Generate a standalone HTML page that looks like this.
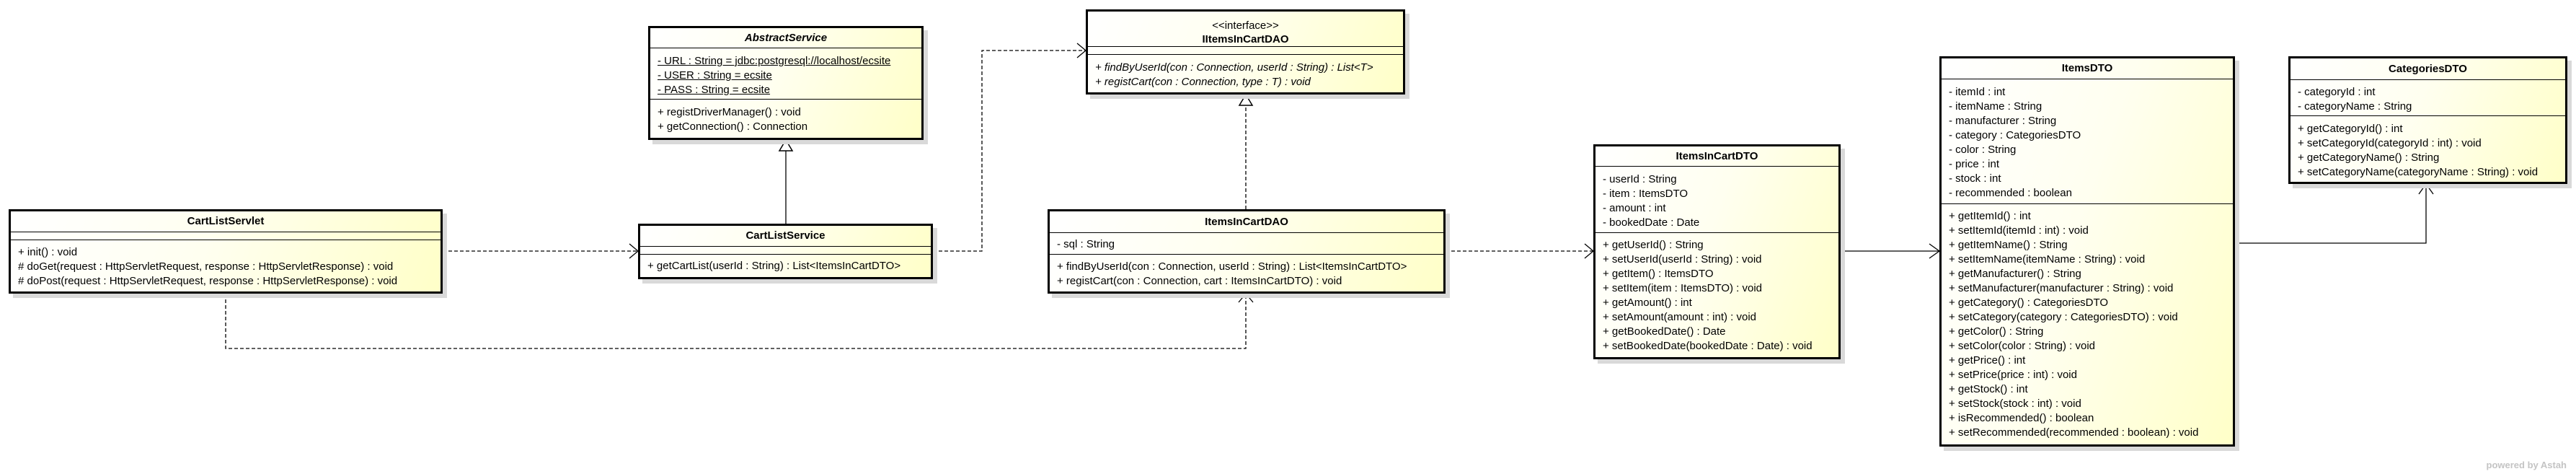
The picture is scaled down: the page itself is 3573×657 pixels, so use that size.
<!DOCTYPE html>
<html><head><meta charset="utf-8"><style>
html,body{margin:0;padding:0;background:#fff;}
body{width:3573px;height:657px;position:relative;overflow:hidden;font-family:"Liberation Sans",Arial,sans-serif;font-size:15px;color:#000;}
.box{position:absolute;box-sizing:border-box;border:3px solid #000;box-shadow:6px 6px 0 #d9d9d9;background:linear-gradient(110deg,#ffffff 0%,#fffff0 45%,#ffffc8 100%);display:flex;flex-direction:column;}
.sec{box-sizing:border-box;border-top:1.5px solid #000;padding-left:10px;white-space:nowrap;line-height:20px;}
.hd{box-sizing:border-box;text-align:center;font-weight:bold;white-space:nowrap;}
.u{text-decoration:underline;}
.i{font-style:italic;}
svg{position:absolute;left:0;top:0;}
</style></head><body>
<svg width="3573" height="657" viewBox="0 0 3573 657">
<g fill="none" stroke="#000" stroke-width="1.3">
<path d="M614 348 H885" stroke-dasharray="5,3"/>
<path d="M873 338 L885 348 L873 358"/>
<path d="M1294 348 H1362 V70 H1506" stroke-dasharray="5,3"/>
<path d="M1494 60 L1506 70 L1494 80"/>
<path d="M1090 310 V209"/>
<path d="M1728 290 V146" stroke-dasharray="5,3"/>
<path d="M313 407 V483 H1728 V407" stroke-dasharray="5,3"/>
<path d="M1718 419 L1728 407 L1738 419"/>
<path d="M2005 348 H2210" stroke-dasharray="5,3"/>
<path d="M2198 338 L2210 348 L2198 358"/>
<path d="M2553 348 H2690"/>
<path d="M2676 338 L2690 348 L2676 358"/>
<path d="M3100 337 H3365 V255"/>
<path d="M3355 269 L3365 255 L3375 269"/>
</g>
<g fill="#fff" stroke="#000" stroke-width="1.5">
<path d="M1090 194 L1099 209 L1081 209 Z"/>
<path d="M1728 131 L1737 146 L1719 146 Z"/>
</g>
<text x="3560" y="649" text-anchor="end" font-family="Liberation Sans, sans-serif" font-size="13" font-weight="bold" fill="#c4c4c4">powered by Astah</text>
</svg>

<div class="box" style="left:12px;top:290px;width:602px;height:117px;">
<div class="hd" style="height:28px;line-height:28px;">CartListServlet</div>
<div class="sec" style="height:11px;"></div>
<div class="sec" style="flex:1;padding-top:7px;">+ init() : void<br># doGet(request : HttpServletRequest, response : HttpServletResponse) : void<br># doPost(request : HttpServletRequest, response : HttpServletResponse) : void</div>
</div>

<div class="box" style="left:899px;top:36px;width:382px;height:158px;">
<div class="hd i" style="height:27px;line-height:27px;">AbstractService</div>
<div class="sec" style="height:71px;padding-top:8px;"><span class="u">- URL : String = jdbc:postgresql://localhost/ecsite</span><br><span class="u">- USER : String = ecsite</span><br><span class="u">- PASS : String = ecsite</span></div>
<div class="sec" style="flex:1;padding-top:8px;">+ registDriverManager() : void<br>+ getConnection() : Connection</div>
</div>

<div class="box" style="left:885px;top:310px;width:409px;height:77px;">
<div class="hd" style="height:28px;line-height:28px;">CartListService</div>
<div class="sec" style="height:11px;"></div>
<div class="sec" style="flex:1;padding-top:6px;">+ getCartList(userId : String) : List&lt;ItemsInCartDTO&gt;</div>
</div>

<div class="box" style="left:1506px;top:13px;width:443px;height:118px;">
<div class="hd" style="height:48px;padding-top:10px;line-height:19px;"><span style="font-weight:normal;">&lt;&lt;interface&gt;&gt;</span><br>IItemsInCartDAO</div>
<div class="sec" style="height:11px;"></div>
<div class="sec i" style="flex:1;padding-top:8px;">+ findByUserId(con : Connection, userId : String) : List&lt;T&gt;<br>+ registCart(con : Connection, type : T) : void</div>
</div>

<div class="box" style="left:1453px;top:290px;width:552px;height:117px;">
<div class="hd" style="height:29px;line-height:29px;">ItemsInCartDAO</div>
<div class="sec" style="height:30px;padding-top:6px;">- sql : String</div>
<div class="sec" style="flex:1;padding-top:7px;">+ findByUserId(con : Connection, userId : String) : List&lt;ItemsInCartDTO&gt;<br>+ registCart(con : Connection, cart : ItemsInCartDTO) : void</div>
</div>

<div class="box" style="left:2210px;top:200px;width:343px;height:298px;">
<div class="hd" style="height:27px;line-height:27px;">ItemsInCartDTO</div>
<div class="sec" style="height:92px;padding-top:8px;">- userId : String<br>- item : ItemsDTO<br>- amount : int<br>- bookedDate : Date</div>
<div class="sec" style="flex:1;padding-top:7px;">+ getUserId() : String<br>+ setUserId(userId : String) : void<br>+ getItem() : ItemsDTO<br>+ setItem(item : ItemsDTO) : void<br>+ getAmount() : int<br>+ setAmount(amount : int) : void<br>+ getBookedDate() : Date<br>+ setBookedDate(bookedDate : Date) : void</div>
</div>

<div class="box" style="left:2690px;top:78px;width:410px;height:541px;">
<div class="hd" style="height:28px;line-height:28px;">ItemsDTO</div>
<div class="sec" style="height:173px;padding-top:8px;">- itemId : int<br>- itemName : String<br>- manufacturer : String<br>- category : CategoriesDTO<br>- color : String<br>- price : int<br>- stock : int<br>- recommended : boolean</div>
<div class="sec" style="flex:1;padding-top:7px;">+ getItemId() : int<br>+ setItemId(itemId : int) : void<br>+ getItemName() : String<br>+ setItemName(itemName : String) : void<br>+ getManufacturer() : String<br>+ setManufacturer(manufacturer : String) : void<br>+ getCategory() : CategoriesDTO<br>+ setCategory(category : CategoriesDTO) : void<br>+ getColor() : String<br>+ setColor(color : String) : void<br>+ getPrice() : int<br>+ setPrice(price : int) : void<br>+ getStock() : int<br>+ setStock(stock : int) : void<br>+ isRecommended() : boolean<br>+ setRecommended(recommended : boolean) : void</div>
</div>

<div class="box" style="left:3174px;top:78px;width:387px;height:177px;">
<div class="hd" style="height:29px;line-height:29px;">CategoriesDTO</div>
<div class="sec" style="height:50px;padding-top:7px;">- categoryId : int<br>- categoryName : String</div>
<div class="sec" style="flex:1;padding-top:8px;">+ getCategoryId() : int<br>+ setCategoryId(categoryId : int) : void<br>+ getCategoryName() : String<br>+ setCategoryName(categoryName : String) : void</div>
</div>
</body></html>
